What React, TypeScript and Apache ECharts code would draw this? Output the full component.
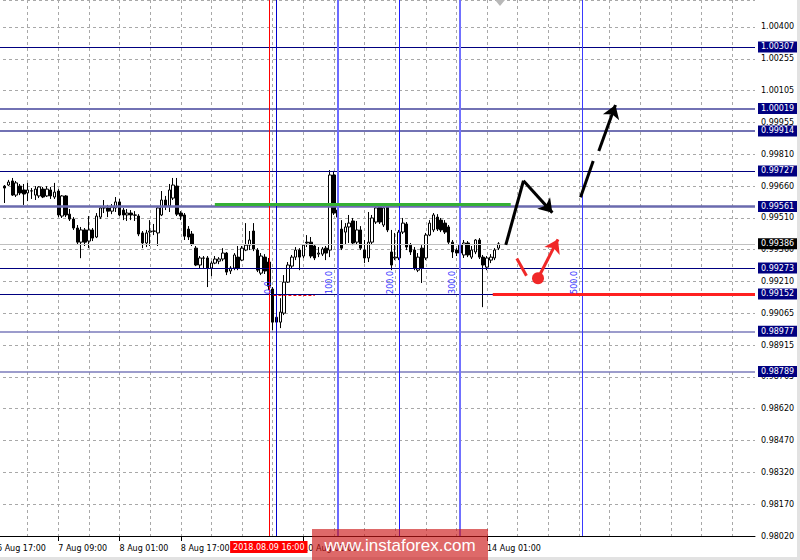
import React, { useEffect, useRef } from 'react';
import * as echarts from 'echarts';

const FONT = 'DejaVu Sans';
const SHIFT = 6; // the chart canvas starts 6px left of the page so the first slot sits at x = -5.5

// ---- time axis ----
const startTimeUTC = Date.UTC(2018, 7, 6, 17); // 6 Aug 2018 17:00
const slotCount = 199; // hourly slots from 6 Aug 17:00 to the right edge
const firstBarIndex = 2;
const xTickLabels = ['6 Aug 17:00', '7 Aug 09:00', '8 Aug 01:00', '8 Aug 17:00', '10 Aug 01:00', '14 Aug 01:00'];

// ---- price axis ----
const yMin = 0.9802;
const yMax = 1.005262;
const yStep = 0.0014875;
const yTickLabels = ['0.98020', '0.98170', '0.98320', '0.98470', '0.98620', '0.98765', '0.98915', '0.99065', '0.99210', '0.99360', '0.99510', '0.99660', '0.99810', '0.99955', '1.00105', '1.00255', '1.00400'];

// ---- H1 candles (from 6 Aug 19:00) ----
const open = [
  0.99656, 0.99661, 0.9968, 0.99614, 0.99656, 0.99638, 0.99624, 0.99633, 0.99614, 0.9961,
  0.99642, 0.9961, 0.99638, 0.99605, 0.99633, 0.99516, 0.9961, 0.99525, 0.99502, 0.9946,
  0.99394, 0.99451, 0.99399, 0.99451, 0.99418, 0.99511, 0.99554, 0.99554, 0.99539, 0.99554,
  0.99582, 0.99544, 0.99521, 0.9953, 0.99521, 0.99516, 0.99437, 0.9939, 0.99441, 0.99446,
  0.99437, 0.99521, 0.99591, 0.99563, 0.996, 0.99656, 0.9953, 0.99521, 0.99455, 0.99432,
  0.99366, 0.99287, 0.9932, 0.9932, 0.99273, 0.99296, 0.99305, 0.99315, 0.99343, 0.99259,
  0.99273, 0.99324, 0.9931, 0.99357, 0.9938, 0.99446, 0.99357, 0.99249, 0.99324, 0.99301,
  0.99175, 0.9902, 0.9902, 0.99062, 0.99207, 0.99282, 0.99324, 0.99357, 0.99329, 0.99394,
  0.99394, 0.99376, 0.99338, 0.99338, 0.99366, 0.99357, 0.99708, 0.99544, 0.99455, 0.99441,
  0.99465, 0.99493, 0.99394, 0.99451, 0.99357, 0.9932, 0.99394, 0.99488, 0.99558, 0.99474,
  0.99558, 0.99348, 0.9932, 0.9932, 0.99441, 0.99479, 0.9938, 0.99357, 0.99263, 0.99366,
  0.9932, 0.99427, 0.99451, 0.99511, 0.99497, 0.99483, 0.99465, 0.99394, 0.99357, 0.99343,
  0.99334, 0.9939, 0.99324, 0.99348, 0.99404, 0.99324, 0.99277, 0.9931, 0.9932, 0.99366,
];
const close = [
  0.99647, 0.99675, 0.99614, 0.99671, 0.99624, 0.99619, 0.99638, 0.99634, 0.99642, 0.99652,
  0.99605, 0.99642, 0.9961, 0.99628, 0.99521, 0.9961, 0.99521, 0.99502, 0.9946, 0.99394,
  0.99451, 0.99394, 0.99451, 0.99413, 0.99516, 0.99554, 0.99555, 0.99539, 0.99558, 0.99582,
  0.99521, 0.99521, 0.9953, 0.99521, 0.9952, 0.99432, 0.9939, 0.99437, 0.99446, 0.99445,
  0.99554, 0.99591, 0.99563, 0.99638, 0.99661, 0.99525, 0.99516, 0.99422, 0.99418, 0.99385,
  0.99287, 0.9932, 0.99319, 0.99273, 0.99296, 0.99315, 0.99315, 0.99343, 0.99254, 0.99273,
  0.99334, 0.99273, 0.99366, 0.9938, 0.99404, 0.99362, 0.99263, 0.99329, 0.99259, 0.99188,
  0.9902, 0.99043, 0.99067, 0.99207, 0.99287, 0.99324, 0.99357, 0.99324, 0.9938, 0.9939,
  0.99329, 0.9932, 0.99343, 0.99362, 0.99343, 0.99708, 0.9953, 0.99511, 0.99366, 0.99465,
  0.99483, 0.9939, 0.99451, 0.99366, 0.9932, 0.99394, 0.99507, 0.99554, 0.99488, 0.99554,
  0.99451, 0.99287, 0.99324, 0.99441, 0.99483, 0.99371, 0.99348, 0.99273, 0.99324, 0.99273,
  0.99427, 0.99483, 0.99521, 0.99455, 0.99451, 0.99441, 0.99394, 0.99348, 0.99343, 0.9938,
  0.9939, 0.99334, 0.99357, 0.99404, 0.99324, 0.99287, 0.9932, 0.99324, 0.99357, 0.99386,
];
const low = [
  0.99577, 0.99656, 0.9961, 0.99605, 0.99614, 0.99568, 0.99586, 0.99596, 0.99591, 0.996,
  0.996, 0.99605, 0.99596, 0.99596, 0.99511, 0.99507, 0.99511, 0.99493, 0.99451, 0.99385,
  0.99319, 0.99376, 0.99366, 0.99399, 0.99413, 0.99502, 0.9953, 0.99511, 0.99525, 0.99535,
  0.99516, 0.99497, 0.99493, 0.99497, 0.99493, 0.99422, 0.99366, 0.99371, 0.99376, 0.99427,
  0.99376, 0.99516, 0.99544, 0.99535, 0.99591, 0.99516, 0.99497, 0.99404, 0.99404, 0.99376,
  0.99282, 0.99273, 0.99273, 0.99184, 0.99235, 0.99291, 0.99291, 0.99305, 0.9924, 0.99245,
  0.99263, 0.99263, 0.99305, 0.99352, 0.99357, 0.99352, 0.99254, 0.9924, 0.99245, 0.9917,
  0.98983, 0.98983, 0.98992, 0.99053, 0.99203, 0.99273, 0.9931, 0.99263, 0.99319, 0.99371,
  0.99319, 0.9931, 0.99324, 0.99329, 0.9931, 0.99324, 0.99521, 0.99507, 0.99357, 0.99385,
  0.9939, 0.9938, 0.99385, 0.99357, 0.99296, 0.99301, 0.99385, 0.99479, 0.99479, 0.99465,
  0.99441, 0.99263, 0.9931, 0.9931, 0.99432, 0.99357, 0.99334, 0.99263, 0.99254, 0.99203,
  0.9931, 0.99422, 0.99441, 0.99446, 0.99441, 0.99432, 0.99385, 0.9932, 0.99329, 0.99334,
  0.9932, 0.99324, 0.99315, 0.99338, 0.99315, 0.9909, 0.99263, 0.99296, 0.9931, 0.99357,
];
const high = [
  0.99661, 0.99685, 0.99694, 0.9968, 0.99666, 0.99666, 0.99671, 0.99647, 0.99656, 0.99656,
  0.99652, 0.99656, 0.99652, 0.99671, 0.99642, 0.99614, 0.99614, 0.99549, 0.99511, 0.99474,
  0.99465, 0.9946, 0.99516, 0.9946, 0.9953, 0.99563, 0.99591, 0.99568, 0.99572, 0.99605,
  0.99596, 0.99554, 0.99549, 0.99544, 0.99539, 0.99525, 0.99446, 0.99451, 0.99497, 0.99479,
  0.99563, 0.99633, 0.9961, 0.99666, 0.99694, 0.99694, 0.99539, 0.9953, 0.99469, 0.99446,
  0.99376, 0.99329, 0.99329, 0.99329, 0.99305, 0.99329, 0.99324, 0.99366, 0.99348, 0.99282,
  0.99343, 0.99376, 0.99376, 0.99483, 0.99446, 0.99483, 0.99366, 0.99343, 0.99338, 0.9932,
  0.99184, 0.99123, 0.99132, 0.9924, 0.99301, 0.99334, 0.99371, 0.99366, 0.99385, 0.99427,
  0.99418, 0.99385, 0.99371, 0.99371, 0.99376, 0.99731, 0.99727, 0.99554, 0.99497, 0.99483,
  0.99521, 0.99507, 0.99493, 0.99469, 0.99404, 0.99535, 0.99521, 0.99568, 0.99568, 0.99563,
  0.99568, 0.99451, 0.99437, 0.99451, 0.99507, 0.99488, 0.9939, 0.99371, 0.99343, 0.9938,
  0.99437, 0.99497, 0.9953, 0.99525, 0.99507, 0.99497, 0.99474, 0.99404, 0.99366, 0.9939,
  0.99404, 0.99399, 0.99376, 0.99408, 0.99413, 0.99334, 0.99329, 0.99338, 0.99366, 0.99394,
];

// ---- horizontal levels ----
const bidPrice = 0.99386;
const levelPrices = [1.00307, 1.00019, 0.99914, 0.99727, 0.99561, 0.99273, 0.99152, 0.98977, 0.98789];
const greenLevel = { price: 0.99571, from: 56.9, to: 134.2 };
const redLevel = { price: 0.99152, from: 129.5, to: 198 };
const redDotted = { price: 0.99145, from: 72.2, to: 83.0 };

// ---- vertical lines ----
const cursorIndex = 71;
const cursorLabel = '2018.08.09 16:00';
const fibIndices = [73, 89, 105, 121, 153];
const fibLabels = ['0.0', '100.0', '200.0', '300.0', '500.0'];
const fibLabelPrice = 0.99152;

// ---- forecast arrows [slot, price] ----
const blackPath = [[132.91, 0.99381], [137.52, 0.99681], [145.07, 0.99532]];
const blackDashed = [[[152.43, 0.99604], [155.74, 0.99773]], [[157.2, 0.9982], [161.55, 1.00035]]];
const redDash = [[135.78, 0.99318], [138.3, 0.99237]];
const redArrow = [[141.32, 0.99225], [146.53, 0.99407]];

const MONTHS = ['Jan', 'Feb', 'Mar', 'Apr', 'May', 'Jun', 'Jul', 'Aug', 'Sep', 'Oct', 'Nov', 'Dec'];
function pad(n: number) { return n < 10 ? '0' + n : '' + n; }
function buildCategories(): string[] {
  const out: string[] = [];
  let t = startTimeUTC;
  while (out.length < slotCount) {
    const d = new Date(t);
    const wd = d.getUTCDay();
    if (wd !== 0 && wd !== 6) out.push(`${d.getUTCDate()} ${MONTHS[d.getUTCMonth()]} ${pad(d.getUTCHours())}:00`);
    t += 3600000;
  }
  return out;
}

const levelStyle: Record<number, { color: string; width: number }> = {
  0: { color: '#000080', width: 1 },
  1: { color: '#7272b4', width: 2 },
  2: { color: '#7272b4', width: 2 },
  3: { color: '#000080', width: 1 },
  4: { color: '#6a6aae', width: 2.5 },
  5: { color: '#000080', width: 1 },
  6: { color: '#000080', width: 1 },
  7: { color: '#7b7bbb', width: 1.5 },
  8: { color: '#7b7bbb', width: 1.5 },
};
const fibStyle = [
  { color: '#0000cd', width: 1 },
  { color: '#6b6bff', width: 2 },
  { color: '#1a1aff', width: 1 },
  { color: '#7070ff', width: 2 },
  { color: '#3a3aff', width: 1 },
];

function boxLabel(text: string, bg: string) {
  return {
    show: true, position: 'end', distance: 3, formatter: text, color: '#ffffff', backgroundColor: bg,
    padding: [1, 3, 1, 3], fontSize: 8, lineHeight: 9, fontFamily: FONT,
  };
}

function buildOption() {
  const categories = buildCategories();
  const tickSet = new Set(xTickLabels);
  const labelInterval = (_i: number, v: string) => tickSet.has(v);
  const candleData: any[] = [];
  for (let i = 0; i < firstBarIndex + open.length; i++) {
    const k = i - firstBarIndex;
    if (k < 0) candleData.push(['-', '-', '-', '-']);
    else candleData.push([open[k], close[k], low[k], high[k]]);
  }
  const lastSlot = slotCount - 1;

  const seg = (a: number[], b: number[], style: any, arrow = false, label?: any) => [
    { coord: a, lineStyle: style, label: label || { show: false } },
    arrow ? { coord: b, symbol: 'arrow', symbolSize: 13 } : { coord: b },
  ];

  const markLines: any[] = [];
  markLines.push(seg([0, bidPrice], [lastSlot, bidPrice], { color: '#c0c0c0', width: 1, type: 'solid' }, false, boxLabel(bidPrice.toFixed(5), '#000000')));
  levelPrices.forEach((p, i) => {
    markLines.push(seg([0, p], [lastSlot, p], { ...levelStyle[i], type: 'solid' }, false, boxLabel(p.toFixed(5), '#000080')));
  });
  fibIndices.forEach((idx, i) => {
    markLines.push(seg([idx, yMin], [idx, yMax], { ...fibStyle[i], type: 'solid' }));
  });
  markLines.push(seg([cursorIndex, yMin], [cursorIndex, yMax], { color: '#ff0000', width: 1, type: 'solid' }, false, {
    show: true, position: 'start', distance: 5, formatter: cursorLabel, color: '#ffffff', backgroundColor: '#ff0000',
    padding: [2, 3, 1, 3], fontSize: 8, lineHeight: 9, fontFamily: FONT,
  }));
  markLines.push(seg([greenLevel.from, greenLevel.price], [greenLevel.to, greenLevel.price], { color: '#35b035', width: 3, type: 'solid' }));
  markLines.push(seg([redLevel.from, redLevel.price], [redLevel.to, redLevel.price], { color: '#ff2020', width: 3, type: 'solid' }));
  markLines.push(seg([redDotted.from, redDotted.price], [redDotted.to, redDotted.price], { color: '#ff0000', width: 1, type: [3, 2] }));
  const black = { color: '#000000', width: 3, type: 'solid' };
  markLines.push(seg(blackPath[0], blackPath[1], black));
  markLines.push(seg(blackPath[1], blackPath[2], black, true));
  markLines.push(seg(blackDashed[0][0], blackDashed[0][1], black));
  markLines.push(seg(blackDashed[1][0], blackDashed[1][1], black, true));
  const red = { color: '#f02828', width: 3, type: 'solid' };
  markLines.push(seg(redDash[0], redDash[1], red));
  markLines.push(seg(redArrow[0], redArrow[1], red, true));

  const markPoints: any[] = [
    { coord: redArrow[0], symbol: 'circle', symbolSize: 12, itemStyle: { color: '#f02828' }, label: { show: false } },
  ];
  fibIndices.forEach((idx, i) => {
    markPoints.push({
      coord: [idx, fibLabelPrice], symbol: 'circle', symbolSize: 1, itemStyle: { color: 'rgba(0,0,0,0)' },
      label: {
        show: true, formatter: fibLabels[i], position: [-3.5, 0.5], rotate: 90, align: 'left', verticalAlign: 'bottom',
        color: '#3030ff', fontSize: 8, fontFamily: FONT,
      },
    });
  });

  const yFmt = (v: number) => {
    const k = Math.round((v - yMin) / yStep);
    if (Math.abs(v - (yMin + k * yStep)) > 1e-7) return '';
    return yTickLabels[k] || '';
  };

  return {
    animation: false,
    backgroundColor: '#ffffff',
    grid: { left: 0.5, right: 45, top: 0, bottom: 24, containLabel: false },
    xAxis: [
      {
        type: 'category', data: categories, boundaryGap: false,
        axisLine: { show: true, lineStyle: { color: '#000000', width: 1 } },
        axisTick: { show: true, interval: labelInterval, length: 5, lineStyle: { color: '#000000' } },
        axisLabel: { show: true, interval: labelInterval, align: 'left', margin: 8, color: '#000000', fontSize: 8, fontFamily: FONT },
        splitLine: { show: true, interval: (i: number) => i % 8 === 0, lineStyle: { color: '#a8a8a8', width: 1, type: [3, 3] } },
      },
      { type: 'value', min: 0, max: lastSlot, show: false },
    ],
    yAxis: {
      type: 'value', position: 'right', min: yMin, max: yMax, interval: yStep,
      axisLine: { show: true, lineStyle: { color: '#000000', width: 1 } },
      axisTick: { show: true, length: 3, lineStyle: { color: '#000000' } },
      axisLabel: { show: true, margin: 6, color: '#000000', fontSize: 8, fontFamily: FONT, formatter: yFmt },
      splitLine: { show: true, lineStyle: { color: '#a8a8a8', width: 1, type: [3, 3] } },
    },
    series: [
      {
        type: 'candlestick', xAxisIndex: 0, yAxisIndex: 0, data: candleData, barWidth: 3, silent: true, z: 2,
        itemStyle: { color: '#ffffff', color0: '#000000', borderColor: '#000000', borderColor0: '#000000', borderWidth: 1 },
      },
      {
        type: 'line', xAxisIndex: 1, yAxisIndex: 0, data: [], silent: true, z: 5,
        markLine: { silent: true, animation: false, symbol: ['none', 'none'], label: { show: false }, data: markLines },
        markPoint: { silent: true, animation: false, label: { show: false }, data: markPoints },
      },
    ],
    graphic: [
      { type: 'polygon', z: 50, shape: { points: [[495 + SHIFT, 0], [505 + SHIFT, 0], [500 + SHIFT, 6]] }, style: { fill: '#b8b8b8' } },
      { type: 'rect', z: 50, shape: { x: 797 + SHIFT, y: 0, width: 3, height: 560 }, style: { fill: '#e2e2e2' } },
      { type: 'rect', z: 50, shape: { x: SHIFT, y: 557, width: 800, height: 3 }, style: { fill: '#e2e2e2' } },
      { type: 'rect', z: 100, shape: { x: 312 + SHIFT, y: 529, width: 176, height: 31 }, style: { fill: 'rgba(204,20,20,0.64)' } },
      {
        type: 'text', z: 101, x: 400 + SHIFT, y: 545,
        style: { text: 'www.instaforex.com', fill: '#ffffff', font: '17px "Liberation Sans", Arial, sans-serif', align: 'center', verticalAlign: 'middle' },
      },
    ],
  };
}

export default function App() {
  const ref = useRef<HTMLDivElement>(null);
  useEffect(() => {
    document.body.style.margin = '0';
    document.body.style.overflow = 'hidden';
    const chart = echarts.init(ref.current as HTMLDivElement, null, { renderer: 'svg' });
    chart.setOption(buildOption() as any);
    return () => chart.dispose();
  }, []);
  return (
    <div style={{ position: 'relative', width: 800, height: 560, overflow: 'hidden', background: '#ffffff' }}>
      <div ref={ref} style={{ position: 'absolute', left: -SHIFT, top: 0, width: 800 + SHIFT, height: 560 }} />
    </div>
  );
}
